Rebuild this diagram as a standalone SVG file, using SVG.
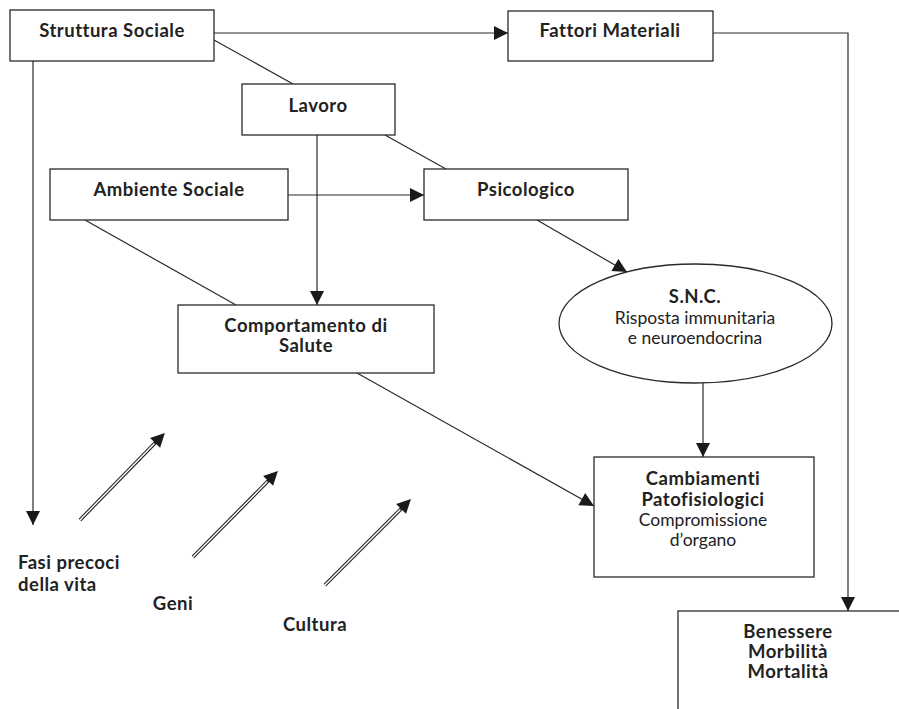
<svg xmlns="http://www.w3.org/2000/svg" width="899" height="709" viewBox="0 0 899 709">
<defs>
<style>
.box{fill:#fff;stroke:#2a2a2a;stroke-width:1.3}
.ln{fill:none;stroke:#2a2a2a;stroke-width:1.2}
.b{font-family:Lato,"Open Sans","Liberation Sans",sans-serif;font-weight:bold;font-size:18.5px;letter-spacing:0.5px;fill:#222;text-anchor:middle}
.r{font-family:Lato,"Open Sans","Liberation Sans",sans-serif;font-size:17.5px;fill:#222;text-anchor:middle}
.l{text-anchor:start}
.dbl{fill:none;stroke:#222;stroke-width:3.6}
.dblw{fill:none;stroke:#fff;stroke-width:1.4}
</style>
<marker id="ah" markerUnits="userSpaceOnUse" markerWidth="14" markerHeight="14" refX="14" refY="7" orient="auto" overflow="visible">
<path d="M0,0 L14,7 L0,14 z" fill="#1a1a1a"/>
</marker>
<marker id="ah2" markerUnits="userSpaceOnUse" markerWidth="14" markerHeight="14" refX="2" refY="7" orient="auto" overflow="visible">
<path d="M0,0 L14,7 L0,14 z" fill="#1a1a1a"/>
</marker>
</defs>
<rect width="899" height="709" fill="#fff"/>

<g id="connectors">
<path class="ln" d="M214,33 H508" marker-end="url(#ah)"/>
<path class="ln" d="M713,33 H848 V611" marker-end="url(#ah)"/>
<path class="ln" d="M214,40 L293,84"/>
<path class="ln" d="M385,135 L446,169"/>
<path class="ln" d="M33,61 V525" marker-end="url(#ah)"/>
<path class="ln" d="M317,135 V305" marker-end="url(#ah)"/>
<path class="ln" d="M288,195 H424" marker-end="url(#ah)"/>
<path class="ln" d="M85,220 L236,305"/>
<path class="ln" d="M537,220 L627,272" marker-end="url(#ah)"/>
<path class="ln" d="M703,383 V457" marker-end="url(#ah)"/>
<path class="ln" d="M357,373 L594,506" marker-end="url(#ah)"/>
<path class="dbl" d="M80,520 L156.5,441.5" marker-end="url(#ah2)"/>
<path class="dblw" d="M80,520 L154.4,443.6"/>
<path class="dbl" d="M193,557 L269.5,479.5" marker-end="url(#ah2)"/>
<path class="dblw" d="M193,557 L267.4,481.6"/>
<path class="dbl" d="M325,585 L402.5,507.5" marker-end="url(#ah2)"/>
<path class="dblw" d="M325,585 L400.4,509.6"/>
</g>

<g id="struttura">
<rect class="box" x="10" y="10" width="204" height="51"/>
<text class="b" x="112" y="37">Struttura Sociale</text>
</g>
<g id="fattori">
<rect class="box" x="508" y="11" width="205" height="50"/>
<text class="b" x="610" y="37">Fattori Materiali</text>
</g>
<g id="lavoro">
<rect class="box" x="242" y="84" width="153" height="51"/>
<text class="b" x="318" y="112">Lavoro</text>
</g>
<g id="ambiente">
<rect class="box" x="50" y="169" width="238" height="51"/>
<text class="b" x="169" y="196">Ambiente Sociale</text>
</g>
<g id="psicologico">
<rect class="box" x="424" y="169" width="204" height="51"/>
<text class="b" x="526" y="196">Psicologico</text>
</g>
<g id="comportamento">
<rect class="box" x="178" y="305" width="256" height="68"/>
<text class="b" x="306" y="332">Comportamento di</text>
<text class="b" x="306" y="352">Salute</text>
</g>
<g id="snc">
<ellipse class="box" cx="695.5" cy="323.5" rx="136.5" ry="59.5"/>
<text class="b" x="695" y="303">S.N.C.</text>
<text class="r" x="695" y="324">Risposta immunitaria</text>
<text class="r" x="695" y="344">e neuroendocrina</text>
</g>
<g id="cambiamenti">
<rect class="box" x="594" y="457" width="220" height="120"/>
<text class="b" x="703" y="485">Cambiamenti</text>
<text class="b" x="703" y="506">Patofisiologici</text>
<text class="r" x="703" y="526">Compromissione</text>
<text class="r" x="703" y="546">d’organo</text>
</g>
<g id="benessere">
<rect class="box" x="678" y="611" width="260" height="140"/>
<text class="b" x="788" y="638">Benessere</text>
<text class="b" x="788" y="658">Morbilità</text>
<text class="b" x="788" y="678">Mortalità</text>
</g>
<g id="fasi">
<text class="b l" x="18" y="569">Fasi precoci</text>
<text class="b l" x="18" y="591">della vita</text>
</g>
<g id="geni">
<text class="b" x="173" y="610">Geni</text>
</g>
<g id="cultura">
<text class="b" x="315" y="631">Cultura</text>
</g>
</svg>
